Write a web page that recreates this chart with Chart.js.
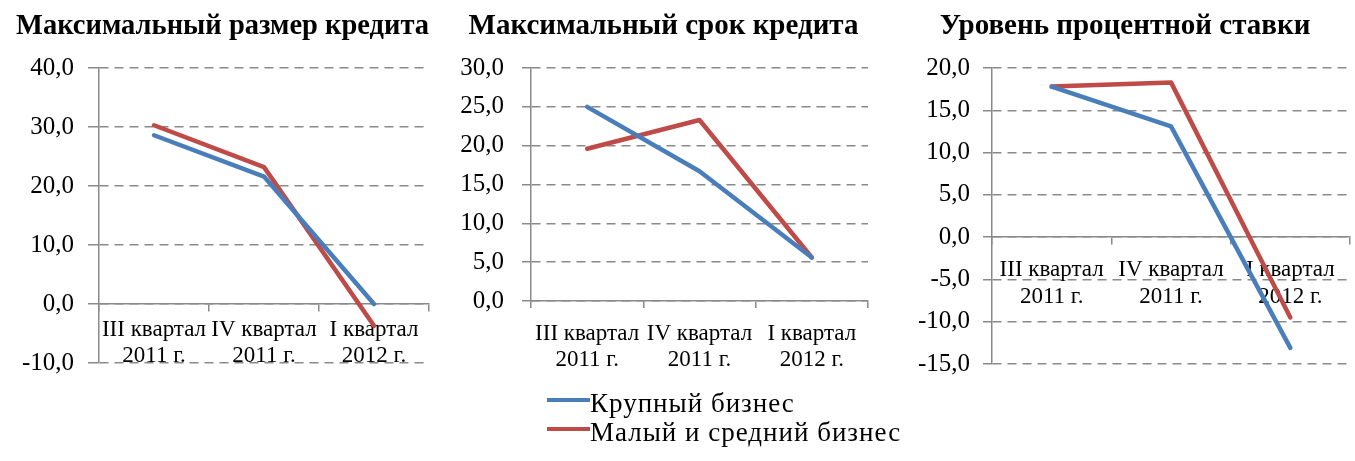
<!DOCTYPE html>
<html>
<head>
<meta charset="utf-8">
<script src="https://cdn.jsdelivr.net/npm/chart.js@4/dist/chart.umd.min.js"></script>
<style>
body{margin:0;background:#fff;width:1355px;height:461px;position:relative;overflow:hidden;font-family:"Liberation Serif",serif}
.box{position:absolute;top:0;height:392px}
#legend{position:absolute;left:547px;top:389px;font-size:27px;color:#000;letter-spacing:1px}
.item{display:flex;align-items:center;height:29px;white-space:nowrap}
.sw{width:43px;height:4px;display:inline-block;margin-top:-7px}
</style>
</head>
<body>
<div class="box" style="left:0;width:434px"><canvas id="c1"></canvas></div>
<div class="box" style="left:450px;width:422px"><canvas id="c2"></canvas></div>
<div class="box" style="left:900px;width:455px"><canvas id="c3"></canvas></div>
<div id="legend"></div>
<script>
// categories and series
const quarters = [['III квартал', '2011 г.'], ['IV квартал', '2011 г.'], ['I квартал', '2012 г.']];
const seriesNames = ['Крупный бизнес', 'Малый и средний бизнес'];
const titles = ['Максимальный размер кредита', 'Максимальный срок кредита', 'Уровень процентной ставки'];

const sizeLarge = [28.6, 21.6, 0.0];
const sizeSmall = [30.3, 23.2, -3.7];
const termLarge = [25.0, 16.7, 5.6];
const termSmall = [19.6, 23.3, 5.6];
const rateLarge = [17.8, 13.1, -13.1];
const rateSmall = [17.8, 18.3, -9.5];

const colors = ['#4A7EBB', '#BE4B48'];
const gray = '#8a8a8a';
const serif = "'Liberation Serif', 'Times New Roman', serif";

function fmt(v){ return v.toFixed(1).replace('.', ','); }

function makeChart(id, title, large, small, o){
  return new Chart(document.getElementById(id), {
    type: 'line',
    data: {
      labels: quarters,
      datasets: [large, small].map((d, i) => ({
        label: seriesNames[i], data: d, borderColor: colors[i], backgroundColor: colors[i],
        borderWidth: 4.5, pointRadius: 0, tension: 0, borderCapStyle: 'round', borderJoinStyle: 'round'
      }))
    },
    options: {
      responsive: true, maintainAspectRatio: false, animation: false,
      layout: { padding: { left: o.padLeft, top: 0, right: o.padRight, bottom: o.padBottom } },
      plugins: {
        legend: { display: false },
        tooltip: { enabled: false },
        title: { display: true, text: title, color: '#000',
          font: { family: serif, size: 29, weight: 'bold', lineHeight: 1.2 }, padding: { top: 9, bottom: 24.2 } }
      },
      scales: {
        x: {
          position: o.xAtZero ? { y: 0 } : 'bottom',
          offset: true,
          grid: { offset: true, drawOnChartArea: false, drawTicks: true, tickLength: 7, color: gray, lineWidth: 1.5 },
          border: { color: gray, width: 1.5 },
          ticks: { color: '#000', font: { family: serif, size: 23, lineHeight: 1.17 }, padding: o.xPad, maxRotation: 0, autoSkip: false },
          afterFit: o.xHeight ? (s => { s.height = o.xHeight; }) : undefined
        },
        y: {
          min: o.min, max: o.max,
          ticks: { stepSize: o.step, callback: v => fmt(v), color: '#000', font: { family: serif, size: 25 }, padding: o.yPad },
          grid: { color: gray, lineWidth: 1.5, drawTicks: true, tickLength: o.tickLen, tickColor: gray },
          border: { display: true, color: gray, width: 1.5, dash: [9, 6] },
          afterFit: s => { s.width = o.yWidth; }
        }
      }
    }
  });
}

makeChart('c1', titles[0], sizeLarge, sizeSmall,
  { min: -10, max: 40, step: 10, padLeft: 16, yWidth: 83, tickLen: 11, yPad: 14, xAtZero: true, xPad: 5, padRight: 5, padBottom: 25 });
makeChart('c2', titles[1], termLarge, termSmall,
  { min: 0, max: 30, step: 5, padLeft: 9, yWidth: 72, tickLen: 9, yPad: 18, xAtZero: false, xPad: 12, xHeight: 91, padRight: 4, padBottom: 0 });
makeChart('c3', titles[2], rateLarge, rateSmall,
  { min: -15, max: 20, step: 5, padLeft: 0, yWidth: 92, tickLen: 9, yPad: 13, xAtZero: true, xPad: 12, padRight: 5, padBottom: 28 });

// shared legend under the middle chart
const legend = document.getElementById('legend');
seriesNames.forEach((n, i) => {
  const row = document.createElement('div');
  row.className = 'item';
  row.innerHTML = '<span class="sw" style="background:' + colors[i] + '"></span><span>' + n + '</span>';
  legend.appendChild(row);
});
</script>
</body>
</html>
